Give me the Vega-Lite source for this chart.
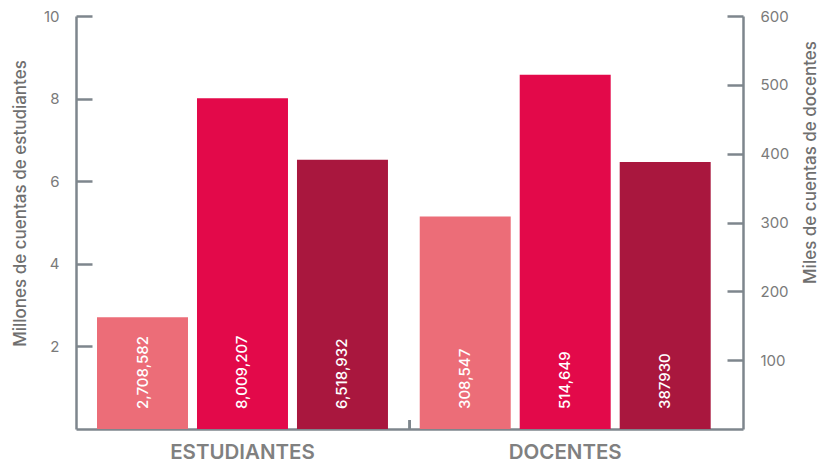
{
  "$schema": "https://vega.github.io/schema/vega-lite/v6.json",
  "width": 667,
  "height": 413,
  "autosize": {"type": "none"},
  "padding": {"left": 76, "top": 16, "right": 76, "bottom": 33},
  "config": {
    "view": {"stroke": null},
    "font": "Inter",
    "axis": {"grid": false, "domainColor": "#7E868D", "domainWidth": 2.5, "tickColor": "#7E868D", "tickWidth": 2.5, "labelColor": "#7a7a7a", "titleColor": "#6f6f6f", "labelFont": "Inter", "titleFont": "Inter"}
  },
  "data": {
    "values": [
      {"grupo": "ESTUDIANTES", "serie": "1", "valor": 2708582, "etiqueta": "2,708,582"},
      {"grupo": "ESTUDIANTES", "serie": "2", "valor": 8009207, "etiqueta": "8,009,207"},
      {"grupo": "ESTUDIANTES", "serie": "3", "valor": 6518932, "etiqueta": "6,518,932"},
      {"grupo": "DOCENTES", "serie": "1", "valor": 308547, "etiqueta": "308,547"},
      {"grupo": "DOCENTES", "serie": "2", "valor": 514649, "etiqueta": "514,649"},
      {"grupo": "DOCENTES", "serie": "3", "valor": 387930, "etiqueta": "387930"}
    ]
  },
  "layer": [
    {
      "transform": [{"filter": "datum.grupo === 'ESTUDIANTES'"}],
      "encoding": {
        "x": {
          "field": "grupo", "type": "nominal", "sort": ["ESTUDIANTES", "DOCENTES"],
          "scale": {"domain": ["ESTUDIANTES", "DOCENTES"], "paddingInner": 0.0984, "paddingOuter": 0.0826, "align": 0.394},
          "axis": {"title": null, "labelAngle": 0, "ticks": false, "labelFontSize": 20.5, "labelFontWeight": 600, "labelPadding": 13, "labelColor": "#808080"}
        },
        "xOffset": {"field": "serie", "type": "nominal", "scale": {"paddingInner": 0.09, "paddingOuter": 0}}
      },
      "layer": [
        {
          "mark": {"type": "bar"},
          "encoding": {
            "color": {"field": "serie", "type": "nominal", "scale": {"domain": ["1", "2", "3"], "range": ["#EC6D78", "#E3094A", "#A9173E"]}, "legend": null},
            "y": {"field": "valor", "type": "quantitative", "scale": {"domain": [0, 10000000]},
              "axis": {"orient": "left", "title": "Millones de cuentas de estudiantes", "values": [2000000, 4000000, 6000000, 8000000, 10000000], "labelExpr": "datum.value / 1000000", "tickSize": -16, "labelPadding": 33, "labelFontSize": 15, "titleFontSize": 17, "titleFontWeight": 500, "titlePadding": 14, "titleY": 187}}
          }
        },
        {
          "mark": {"type": "text", "angle": 270, "align": "left", "baseline": "middle", "dx": 20, "color": "white", "fontSize": 15, "fontWeight": 500},
          "encoding": {
            "y": {"datum": 0, "type": "quantitative"},
            "text": {"field": "etiqueta"}
          }
        }
      ]
    },
    {
      "transform": [{"filter": "datum.grupo === 'DOCENTES'"}],
      "layer": [
        {
          "mark": {"type": "bar"},
          "encoding": {
            "x": {"field": "grupo", "type": "nominal", "sort": ["ESTUDIANTES", "DOCENTES"]},
            "xOffset": {"field": "serie", "type": "nominal"},
            "color": {"field": "serie", "type": "nominal", "legend": null},
            "y": {"field": "valor", "type": "quantitative", "scale": {"domain": [0, 600000]},
              "axis": {"orient": "right", "title": "Miles de cuentas de docentes", "values": [100000, 200000, 300000, 400000, 500000, 600000], "labelExpr": "datum.value / 1000", "tickSize": -16, "labelPadding": 33, "labelFontSize": 15, "titleFontSize": 17, "titleFontWeight": 500, "titleAngle": 270, "titlePadding": 31, "titleY": 146}}
          }
        },
        {
          "mark": {"type": "text", "angle": 270, "align": "left", "baseline": "middle", "dx": 20, "color": "white", "fontSize": 15, "fontWeight": 500},
          "encoding": {
            "x": {"field": "grupo", "type": "nominal", "sort": ["ESTUDIANTES", "DOCENTES"]},
            "xOffset": {"field": "serie", "type": "nominal"},
            "y": {"datum": 0, "type": "quantitative"},
            "text": {"field": "etiqueta"}
          }
        },
        {
          "mark": {"type": "rule", "color": "#7E868D", "strokeWidth": 2.5, "xOffset": -10},
          "encoding": {
            "x": {"datum": "DOCENTES", "type": "nominal", "bandPosition": 0},
            "y": {"datum": 0, "type": "quantitative"},
            "y2": {"datum": 13000}
          }
        }
      ]
    }
  ],
  "resolve": {"scale": {"y": "independent", "color": "shared", "x": "shared", "xOffset": "shared"}}
}
